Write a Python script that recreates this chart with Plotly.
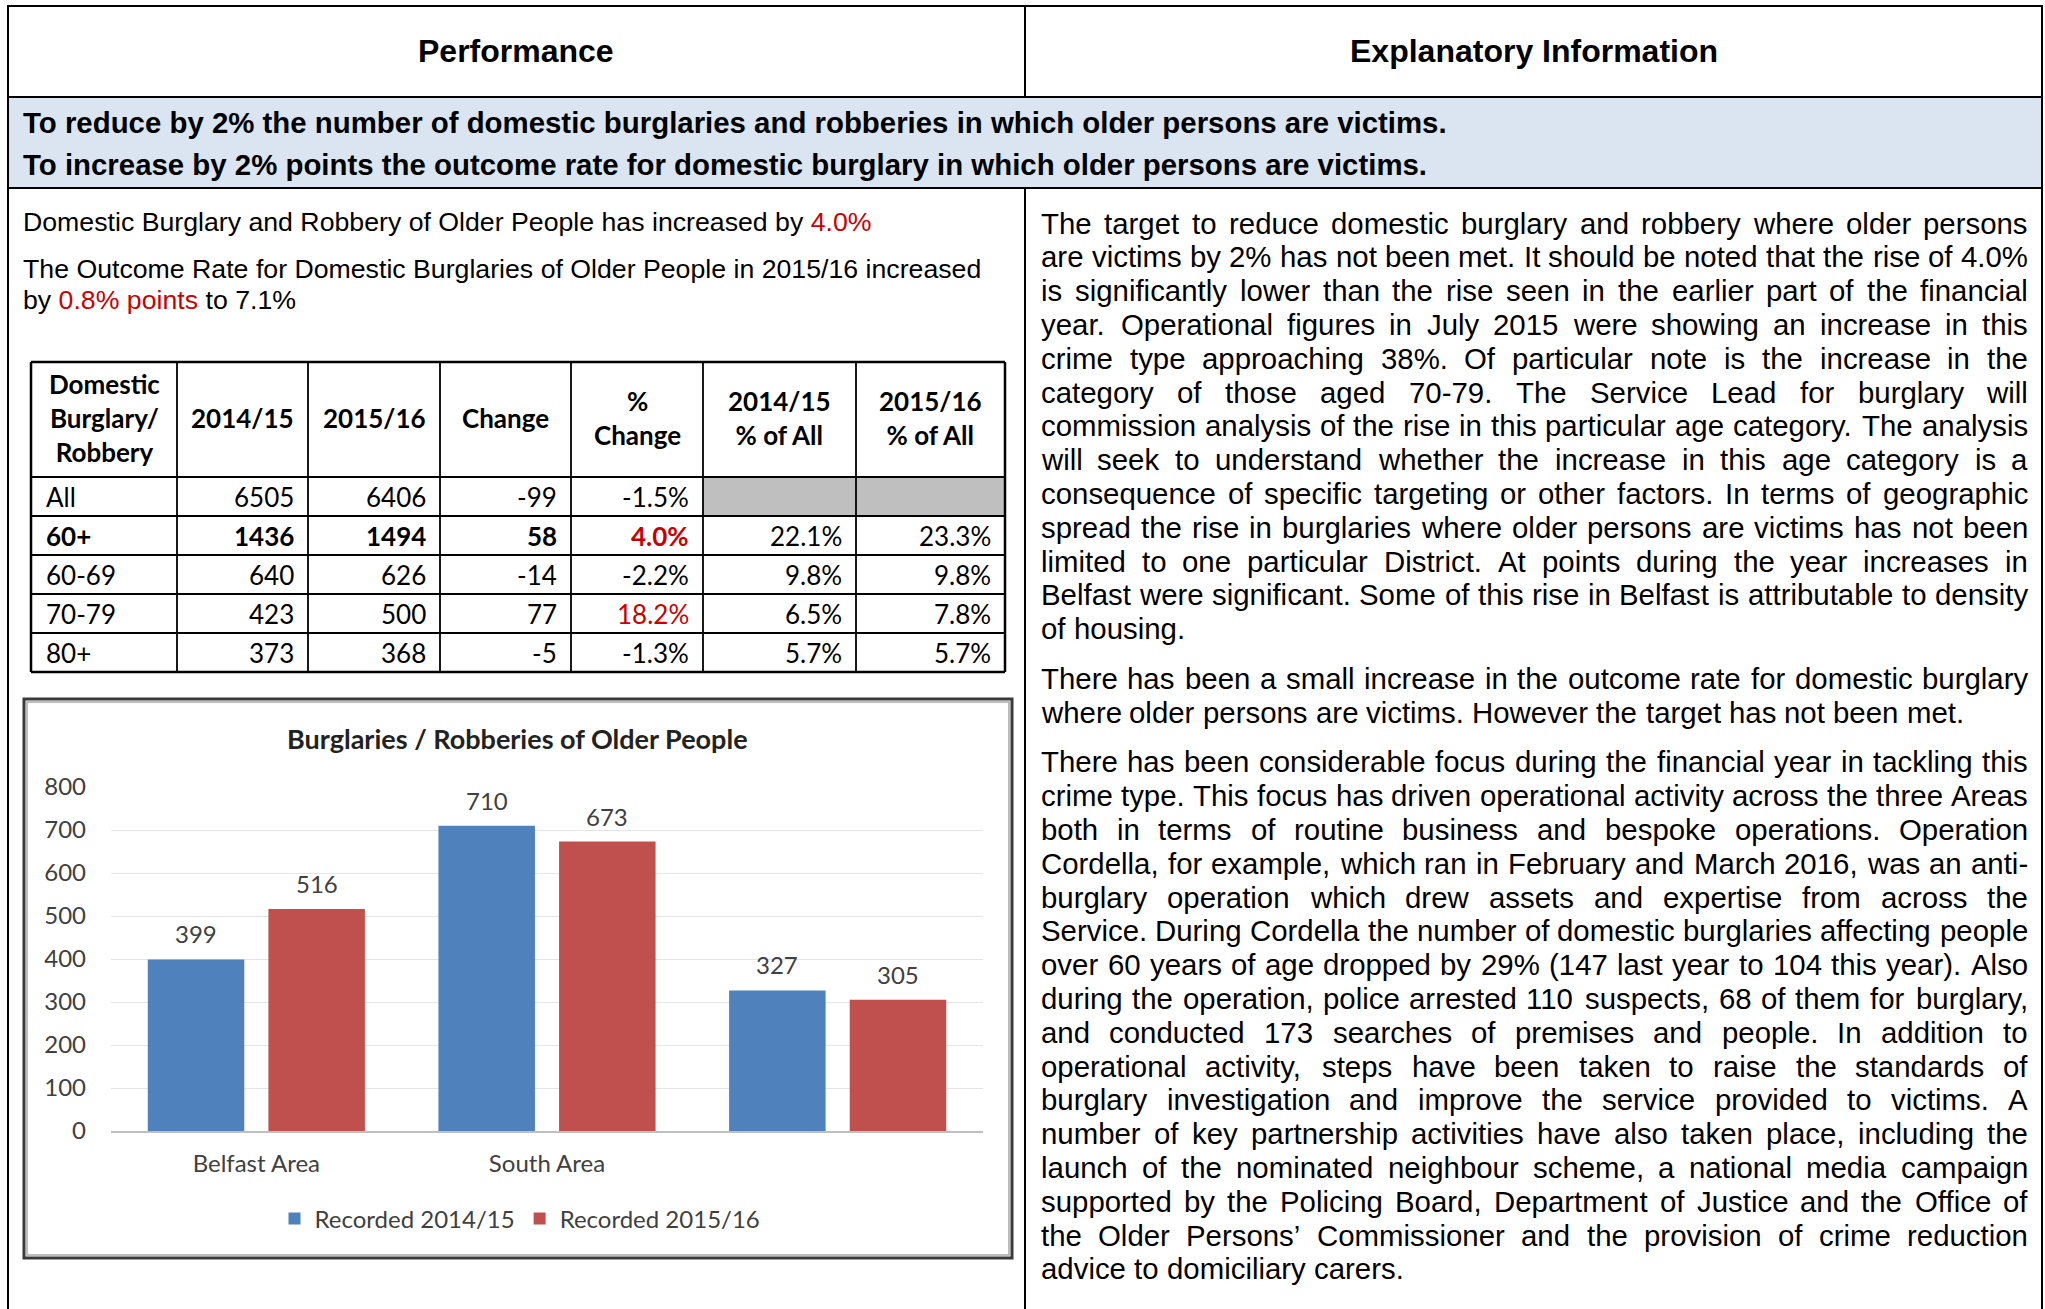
import plotly.graph_objects as go

W, H = 2045, 1309

# ---------------- data ----------------
area_labels = ["Belfast Area", "South Area", ""]
recorded_1415 = [399, 710, 327]
recorded_1516 = [516, 673, 305]
series_names = ["Recorded 2014/15", "Recorded 2015/16"]
series_colors = ["#4F81BD", "#C0504D"]
chart_title = "Burglaries / Robberies of Older People"
y_ticks = [0, 100, 200, 300, 400, 500, 600, 700, 800]

table_header = ["Domestic<br>Burglary/<br>Robbery", "2014/15", "2015/16", "Change",
                "%<br>Change", "2014/15<br>% of All", "2015/16<br>% of All"]
row_labels = ["All", "60+", "60-69", "70-79", "80+"]
val_1415 = [6505, 1436, 640, 423, 373]
val_1516 = [6406, 1494, 626, 500, 368]
change = [-99, 58, -14, 77, -5]
pct_change = ["-1.5%", "4.0%", "-2.2%", "18.2%", "-1.3%"]
share_1415 = ["", "22.1%", "9.8%", "6.5%", "5.7%"]
share_1516 = ["", "23.3%", "9.8%", "7.8%", "5.7%"]
bold_rows = ["60+"]
red_pct = ["4.0%", "18.2%"]

head_left = "Performance"
head_right = "Explanatory Information"
band_lines = [
    "To reduce by 2% the number of domestic burglaries and robberies in which older persons are victims.",
    "To increase by 2% points the outcome rate for domestic burglary in which older persons are victims.",
]
RED = "#CC0000"
left_lines = [
    "Domestic Burglary and Robbery of Older People has increased by <span style='color:%s'>4.0%%</span>" % RED,
    "The Outcome Rate for Domestic Burglaries of Older People in 2015/16 increased",
    "by <span style='color:%s'>0.8%% points</span> to 7.1%%" % RED,
]
paragraphs = [
    [
        "The target to reduce domestic burglary and robbery where older persons",
        "are victims by 2% has not been met. It should be noted that the rise of 4.0%",
        "is significantly lower than the rise seen in the earlier part of the financial",
        "year. Operational figures in July 2015 were showing an increase in this",
        "crime type approaching 38%. Of particular note is the increase in the",
        "category of those aged 70-79. The Service Lead for burglary will",
        "commission analysis of the rise in this particular age category. The analysis",
        "will seek to understand whether the increase in this age category is a",
        "consequence of specific targeting or other factors. In terms of geographic",
        "spread the rise in burglaries where older persons are victims has not been",
        "limited to one particular District. At points during the year increases in",
        "Belfast were significant. Some of this rise in Belfast is attributable to density",
        "of housing.",
    ],
    [
        "There has been a small increase in the outcome rate for domestic burglary",
        "where older persons are victims. However the target has not been met.",
    ],
    [
        "There has been considerable focus during the financial year in tackling this",
        "crime type. This focus has driven operational activity across the three Areas",
        "both in terms of routine business and bespoke operations. Operation",
        "Cordella, for example, which ran in February and March 2016, was an anti-",
        "burglary operation which drew assets and expertise from across the",
        "Service. During Cordella the number of domestic burglaries affecting people",
        "over 60 years of age dropped by 29% (147 last year to 104 this year). Also",
        "during the operation, police arrested 110 suspects, 68 of them for burglary,",
        "and conducted 173 searches of premises and people. In addition to",
        "operational activity, steps have been taken to raise the standards of",
        "burglary investigation and improve the service provided to victims. A",
        "number of key partnership activities have also taken place, including the",
        "launch of the nominated neighbour scheme, a national media campaign",
        "supported by the Policing Board, Department of Justice and the Office of",
        "the Older Persons\u2019 Commissioner and the provision of crime reduction",
        "advice to domiciliary carers.",
    ],
]

# ---------------- styling ----------------
ARIAL = "Liberation Sans, Arial, sans-serif"
CALIBRI = "Lato, Carlito, Calibri, sans-serif"
TXT = "#404040"

# Arial / Helvetica advance widths (per 1000 em) for text justification
_HW = {' ': 278, '!': 278, '"': 355, '#': 556, '$': 556, '%': 889, '&': 667, "'": 191,
       '(': 333, ')': 333, '*': 389, '+': 584, ',': 278, '-': 333, '.': 278, '/': 278,
       ':': 278, ';': 278, '?': 556, '\u2019': 222,
       'A': 667, 'B': 667, 'C': 722, 'D': 722, 'E': 667, 'F': 611, 'G': 778, 'H': 722,
       'I': 278, 'J': 500, 'K': 667, 'L': 556, 'M': 833, 'N': 722, 'O': 778, 'P': 667,
       'Q': 778, 'R': 722, 'S': 667, 'T': 611, 'U': 722, 'V': 667, 'W': 944, 'X': 667,
       'Y': 667, 'Z': 611,
       'a': 556, 'b': 556, 'c': 500, 'd': 556, 'e': 556, 'f': 278, 'g': 556, 'h': 556,
       'i': 222, 'j': 222, 'k': 500, 'l': 222, 'm': 833, 'n': 556, 'o': 556, 'p': 556,
       'q': 556, 'r': 333, 's': 500, 't': 278, 'u': 556, 'v': 500, 'w': 722, 'x': 500,
       'y': 500, 'z': 500}


def tw(s, fs):
    return sum(_HW.get(c, 556) for c in s) * fs / 1000.0


def px(x):
    return x / W


def py(y):
    return 1 - y / H


fig = go.Figure()

# ---------------- chart ----------------
bargap = 0.17
for name, vals, col in zip(series_names, [recorded_1415, recorded_1516], series_colors):
    fig.add_trace(go.Bar(x=list(range(len(area_labels))), y=vals, name=name,
                         marker=dict(color=col, line=dict(width=0)),
                         hoverinfo="skip"))

annotations = []
shapes = []


def ann(x, y, text, size, family=ARIAL, color="black", xanchor="left", yanchor="middle",
        align="left", xref="paper", yref="paper", yshift=0):
    annotations.append(dict(
        x=px(x) if xref == "paper" else x,
        y=py(y) if yref == "paper" else y,
        xref=xref, yref=yref, text=text, showarrow=False,
        xanchor=xanchor, yanchor=yanchor, align=align, yshift=yshift,
        borderpad=0, borderwidth=0,
        font=dict(family=family, size=size, color=color)))


# value labels above bars
for j, vals in enumerate([recorded_1415, recorded_1516]):
    off = (-1 if j == 0 else 1) * (1 - bargap) / 4
    for i, v in enumerate(vals):
        ann(i + off, v, str(v), 24, CALIBRI, TXT, xanchor="center", yanchor="bottom",
            align="center", xref="x", yref="y", yshift=11)

# chart title
ann(517, 738, "<b>%s</b>" % chart_title, 27, CALIBRI, "#222222", xanchor="center", align="center")


def rect(x0, y0, x1, y1, line_color=None, line_width=0, fill=None, layer="below"):
    d = dict(type="rect", xref="paper", yref="paper", x0=px(x0), x1=px(x1), y0=py(y0), y1=py(y1),
             layer=layer, line=dict(width=line_width, color=line_color or "rgba(0,0,0,0)"))
    if fill:
        d["fillcolor"] = fill
    shapes.append(d)


def line(x0, y0, x1, y1, color="black", width=2):
    shapes.append(dict(type="line", xref="paper", yref="paper", x0=px(x0), x1=px(x1),
                       y0=py(y0), y1=py(y1), line=dict(color=color, width=width), layer="above"))


# chart frame
rect(24, 699, 1012, 1258, "#3a3a3a", 3, None, "above")
rect(27, 702, 1009, 1255, "#a8a8a8", 1.5, None, "above")

# ---------------- page frame ----------------
rect(8, 97, 2042, 188, None, 0, "#DBE5F1")
line(8, 6, 2042, 6)
line(8, 97, 2042, 97)
line(8, 188, 2042, 188)
line(8, 5, 8, H)
line(2042, 5, 2042, H)
line(1025, 6, 1025, 97)
line(1025, 188, 1025, H)

ann(516, 51, "<b>%s</b>" % head_left, 32, ARIAL, "black", xanchor="center", align="center")
ann(1534, 51, "<b>%s</b>" % head_right, 32, ARIAL, "black", xanchor="center", align="center")
for yy, t in zip([123, 164], band_lines):
    ann(23, yy, "<b>%s</b>" % t, 29.4, ARIAL, "black")
for yy, t in zip([222, 269, 300], left_lines):
    ann(23, yy, t, 26.7, ARIAL, "black")

# ---------------- justified right-hand text ----------------
FS_R = 29.4
X0, X1 = 1041, 2028
y = 223
pitch = 33.8
for para in paragraphs:
    for k, ln in enumerate(para):
        words = ln.split(" ")
        widths = [tw(w_, FS_R) for w_ in words]
        last = (k == len(para) - 1)
        if last or len(words) == 1:
            gap = tw(" ", FS_R)
        else:
            gap = (X1 - X0 - sum(widths)) / (len(words) - 1)
        x = X0
        for n, (w_, wd) in enumerate(zip(words, widths)):
            if (not last) and n == len(words) - 1 and len(words) > 1:
                ann(X1, y, w_, FS_R, ARIAL, "black", xanchor="right")
            else:
                ann(x, y, w_, FS_R, ARIAL, "black")
            x += wd + gap
        y += pitch
    y += 16

# ---------------- data table ----------------
col_x = [31, 177, 308, 440, 571, 703, 856, 1005]
row_y = [362, 477, 516, 555, 594, 633, 672]
TFS = 26
# gray cells
for c in (5, 6):
    rect(col_x[c], row_y[1], col_x[c + 1], row_y[2], None, 0, "#BFBFBF")
for cx in col_x:
    w_ = 2.5 if cx in (col_x[0], col_x[-1]) else 1.8
    line(cx, row_y[0], cx, row_y[-1], "black", w_)
for ry in row_y:
    w_ = 2.5 if ry in (row_y[0], row_y[-1]) else 1.8
    line(col_x[0], ry, col_x[-1], ry, "black", w_)

hy = (row_y[0] + row_y[1]) / 2 - 2
for c, htxt in enumerate(table_header):
    ann((col_x[c] + col_x[c + 1]) / 2, hy, "<b>%s</b>" % htxt, TFS, CALIBRI, "black",
        xanchor="center", align="center")

columns = [val_1415, val_1516, change, pct_change, share_1415, share_1516]
for r, lab in enumerate(row_labels):
    cy = (row_y[r + 1] + row_y[r + 2]) / 2
    b = lab in bold_rows
    ann(col_x[0] + 15, cy, ("<b>%s</b>" % lab) if b else lab, TFS, CALIBRI, "black")
    for c, colvals in enumerate(columns):
        v = str(colvals[r])
        if v == "":
            continue
        color = RED if (c == 3 and v in red_pct) else "black"
        t = ("<b>%s</b>" % v) if (b and c <= 3) else v
        ann(col_x[c + 2] - 14, cy, t, TFS, CALIBRI, color, xanchor="right", align="right")

fig.update_layout(
    width=W, height=H, autosize=False,
    margin=dict(l=0, r=0, t=0, b=0, pad=0, autoexpand=False),
    paper_bgcolor="white", plot_bgcolor="white",
    barmode="group", bargap=bargap, bargroupgap=0.2,
    showlegend=True,
    legend=dict(orientation="h", x=px(520), xanchor="center", y=py(1219), yanchor="middle",
                font=dict(family=CALIBRI, size=24, color=TXT), bgcolor="rgba(0,0,0,0)",
                itemclick=False, itemdoubleclick=False),
    xaxis=dict(domain=[px(111), px(983)], range=[-0.5, 2.5], tickmode="array",
               tickvals=list(range(len(area_labels))), ticktext=area_labels,
               showgrid=False, zeroline=False, showline=True, linecolor="#BFBFBF", linewidth=1.5,
               ticks="", ticklabelstandoff=10, tickfont=dict(family=CALIBRI, size=24, color=TXT),
               fixedrange=True, automargin=False),
    yaxis=dict(domain=[py(1131), py(787)], range=[0, 800], tickmode="array", tickvals=y_ticks,
               showgrid=True, gridcolor="#E4E4E4", gridwidth=1, zeroline=False, showline=False,
               ticks="", ticklabelstandoff=24, tickfont=dict(family=CALIBRI, size=24, color=TXT),
               fixedrange=True, automargin=False),
    annotations=annotations,
    shapes=shapes,
)

fig.write_html("out.html", config={"displayModeBar": False},
               post_script="document.body.style.margin='0';document.body.style.overflow='hidden';")
